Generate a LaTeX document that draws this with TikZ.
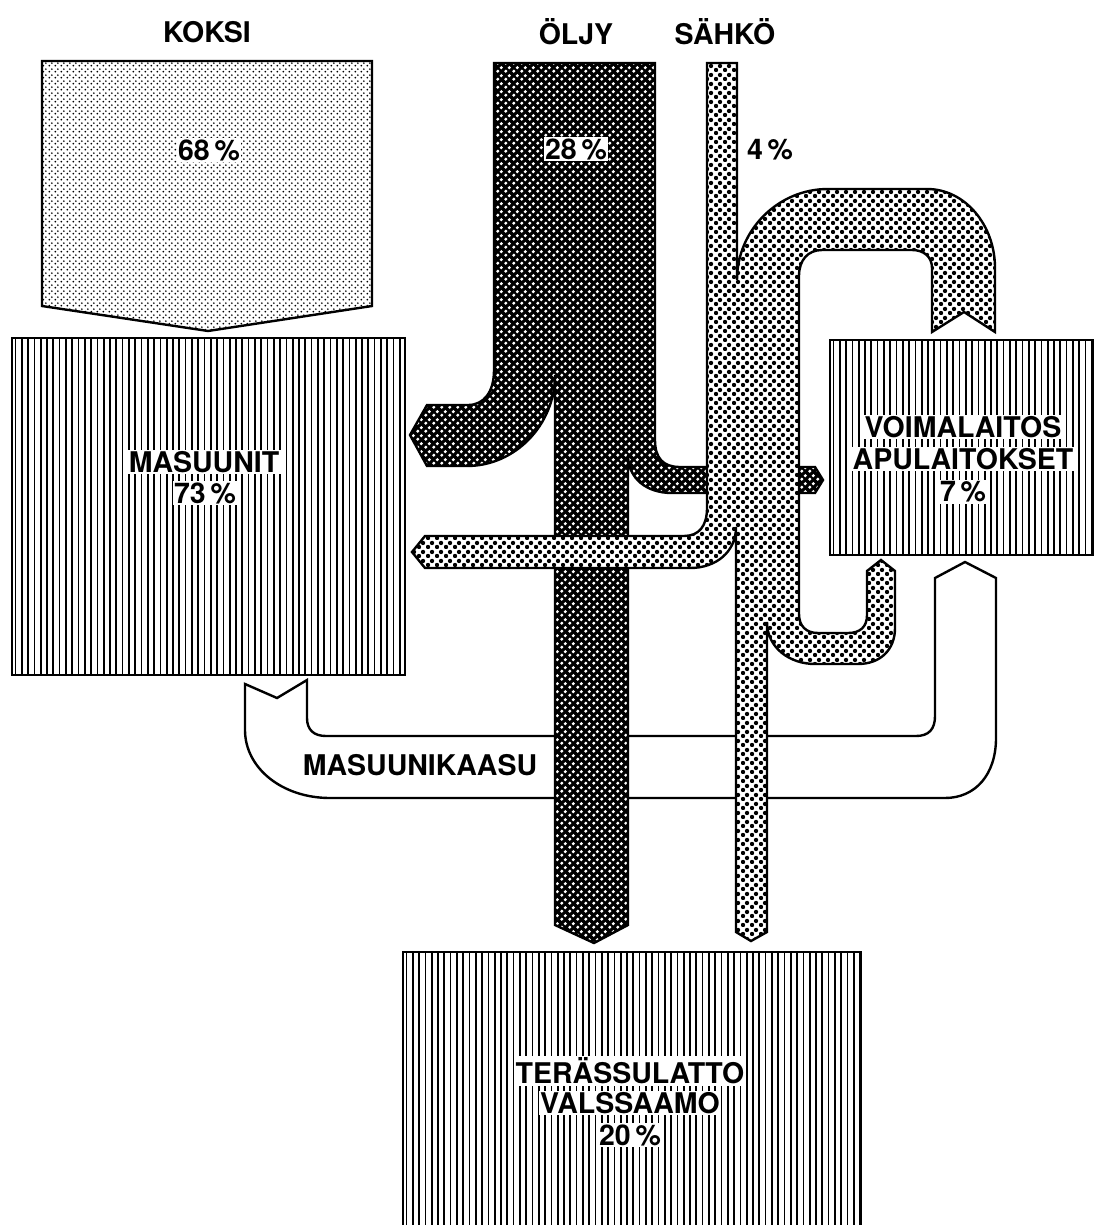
\documentclass[tikz,border=0pt]{standalone}
\usepackage{fontspec}
\setmainfont{TeX Gyre Heros}
\usetikzlibrary{patterns.meta}

\tikzdeclarepattern{
  name=finedots, type=uncolored,
  bottom left={(0pt,0pt)}, top right={(6pt,6pt)},
  tile size={(6pt,6pt)},
  code={\pgfpathcircle{\pgfpoint{1.5pt}{1.5pt}}{1.15pt}
        \pgfpathcircle{\pgfpoint{4.5pt}{4.5pt}}{1.15pt}
        \pgfusepath{fill}}}
\tikzdeclarepattern{
  name=meddots, type=uncolored,
  bottom left={(0pt,0pt)}, top right={(8.5pt,8.5pt)},
  tile size={(8.5pt,8.5pt)},
  code={\pgfpathcircle{\pgfpoint{2.125pt}{2.125pt}}{2.3pt}
        \pgfpathcircle{\pgfpoint{6.375pt}{6.375pt}}{2.3pt}
        \pgfusepath{fill}}}
\tikzdeclarepattern{
  name=oildots, type=uncolored,
  bottom left={(0pt,0pt)}, top right={(8pt,8pt)},
  tile size={(8pt,8pt)},
  code={\pgfpathcircle{\pgfpoint{2pt}{2pt}}{1.9pt}
        \pgfpathcircle{\pgfpoint{6pt}{6pt}}{1.9pt}
        \pgfusepath{fill}}}

\tikzset{
  outl/.style={draw=black, line width=2.4pt, line join=miter},
  koksifill/.style={outl, preaction={fill=white}, pattern=finedots, pattern color=black},
  plantedge/.style={outl},
  hatchline/.style={draw=black, line width=1.7pt},
  oilfill/.style={outl, preaction={fill=black}, pattern=oildots, pattern color=white},
  steamfill/.style={outl, preaction={fill=white}, pattern=meddots, pattern color=black},
  gasfill/.style={outl, fill=white},
  lbl/.style={font=\bfseries\fontsize{28.5}{32}\selectfont, inner sep=1.5pt},
  lblw/.style={lbl, fill=white}
}

% hatched plant box: left, top, right, bottom
\newcommand\plantrect[4]{%
  \begin{scope}
    \clip (#1,#2) rectangle (#3,#4);
    \fill[white] (#1,#2) rectangle (#3,#4);
    \pgfmathsetmacro\hstart{#1+3.5}
    \pgfmathsetmacro\hnext{#1+9.8}
    \foreach \hx in {\hstart,\hnext,...,#3} \draw[hatchline] (\hx,#2) -- (\hx,#4);
  \end{scope}
  \draw[plantedge] (#1,#2) rectangle (#3,#4);
}

\begin{document}
\begin{tikzpicture}[x=1pt,y=-1pt]
\useasboundingbox (0,0) rectangle (1095,1225);
\clip (0,0) rectangle (1095,1225);

% KOKSI input
\draw[koksifill] (42,61) -- (372,61) -- (372,306) -- (208,331) -- (42,306) -- cycle;

% plant boxes
\plantrect{12}{338}{405}{675}
\plantrect{830}{340}{1093}{555}
\plantrect{403}{952}{861}{1240}

% blast furnace gas band
\draw[gasfill] (245,684) -- (277,698) -- (307,680) -- (307,718)
  .. controls (307,730) and (314,736) .. (326,736) -- (916,736)
  .. controls (929,736) and (935,729) .. (935,716) -- (935,578)
  -- (965,562) -- (996,578) -- (996,738)
  .. controls (996,775) and (975,798) .. (945,798) -- (330,798)
  .. controls (282,798) and (245,768) .. (245,730) -- cycle;

% oil band
\draw[oilfill] (494,63) -- (655,63) -- (655,440)
  .. controls (655,458) and (663,467) .. (680,467) -- (815,467) -- (823,480) -- (815,493)
  -- (672,493) .. controls (646,493) and (628,478) .. (628,455)
  -- (628,925) -- (594,943) -- (555,925) -- (555,375)
  .. controls (555,425) and (515,466) .. (467,466) -- (427,466) -- (410,435) -- (427,405)
  -- (468,405) .. controls (484,405) and (494,392) .. (494,370) -- cycle;

% electricity / steam band
\draw[steamfill] (707,63) -- (737,63) -- (737,280)
  .. controls (737,230) and (778,189) .. (828,189) -- (927,189)
  .. controls (965,189) and (995,225) .. (995,268) -- (995,332) -- (964,312) -- (932,332)
  -- (932,268) .. controls (932,257) and (924,250) .. (912,250) -- (822,250)
  .. controls (808,250) and (799,260) .. (799,276) -- (799,614)
  .. controls (799,626) and (806,633) .. (818,633) -- (848,633)
  .. controls (860,633) and (867,627) .. (867,615) -- (867,571) -- (881,560) -- (895,571)
  -- (895,628) .. controls (895,650) and (880,664) .. (858,664) -- (815,664)
  .. controls (790,664) and (767,648) .. (767,622) -- (767,932) -- (751,941) -- (736,932)
  -- (736,527) .. controls (736,552) and (716,568) .. (690,568) -- (425,568) -- (412,552)
  -- (425,536) -- (684,536) .. controls (699,536) and (707,526) .. (707,508) -- cycle;

% labels
\node[lbl] (koksi) at (207,32) {KOKSI};
\node[lbl] (oljy) at (576,32) {ÖLJY};
\node[lbl] (sahko) at (725,32) {SÄHKÖ};
\node[lblw] (p68) at (209,150) {68\,\%};
\node[lblw] (p28) at (576,149) {28\,\%};
\node[lbl] (p4) at (770,150) {4\,\%};
\node[lblw] (mas) at (204,462) {MASUUNIT};
\node[lblw] (p73) at (205,493) {73\,\%};
\node[lblw] (voim) at (963,427) {VOIMALAITOS};
\node[lblw] (apu) at (963,459) {APULAITOKSET};
\node[lblw] (p7) at (963,492) {7\,\%};
\node[lblw] (ter) at (630,1071) {TERÄSSULATTO};
\node[lblw] (val) at (630,1103) {VALSSAAMO};
\node[lblw] (p20) at (630,1135) {20\,\%};
\node[lbl] (gas) at (420,765) {MASUUNIKAASU};
\end{tikzpicture}
\end{document}
